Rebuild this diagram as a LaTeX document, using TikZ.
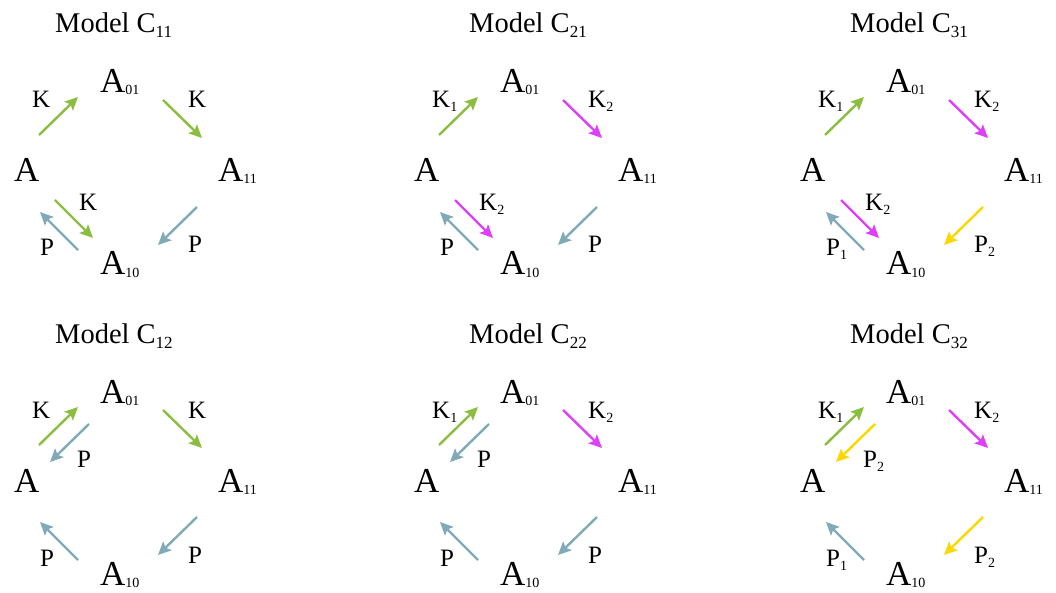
\documentclass[tikz,border=0pt]{standalone}
\usepackage{fontspec}
\setmainfont{Liberation Serif}
\usetikzlibrary{arrows.meta}
\definecolor{kgreen}{RGB}{139,190,64}
\definecolor{kmagenta}{RGB}{222,64,250}
\definecolor{pblue}{RGB}{128,170,184}
\definecolor{pyellow}{RGB}{253,215,0}
\tikzset{
  species/.style = {anchor=base west, inner sep=0pt, font=\fontsize{35pt}{35pt}\selectfont},
  rate/.style    = {anchor=base west, inner sep=0pt, font=\fontsize{25pt}{25pt}\selectfont},
  title/.style   = {anchor=base west, inner sep=0pt, font=\fontsize{28.5pt}{28.5pt}\selectfont},
  arr/.style     = {-{Stealth[length=13pt,width=12pt,inset=2.5pt]}, line width=2.4pt},
}
\newcommand{\spsub}[1]{\raisebox{-2pt}{\fontsize{14pt}{14pt}\selectfont#1}}
\newcommand{\rtsub}[1]{\raisebox{-4pt}{\fontsize{14pt}{14pt}\selectfont#1}}
\newcommand{\ttsub}[1]{\raisebox{-5pt}{\fontsize{17pt}{17pt}\selectfont#1}}
% four species and the arrow ends of one panel
\newcommand{\speciesring}[1]{%
  \node[species] (#1A)   at (14,182)  {A};
  \node[species] (#1A01) at (100,93)  {A\spsub{01}};
  \node[species] (#1A11) at (218,182) {A\spsub{11}};
  \node[species] (#1A10) at (100,275) {A\spsub{10}};
  \coordinate (#1w1) at (39,135);  \coordinate (#1n1) at (78,97);
  \coordinate (#1n2) at (89,114);  \coordinate (#1w2) at (50,152);
  \coordinate (#1n3) at (163,100); \coordinate (#1e1) at (202,138);
  \coordinate (#1e2) at (197,207); \coordinate (#1s1) at (158,245);
  \coordinate (#1w3) at (55,200);  \coordinate (#1s2) at (93,238);
  \coordinate (#1s3) at (78,250);  \coordinate (#1w4) at (40,212);
}

\begin{document}
\begin{tikzpicture}[x=1pt,y=-1pt]
  \useasboundingbox (0,0) rectangle (1056,593);

  % top row
  \begin{scope}
    \node[title] (t11) at (55,33) {Model C\ttsub{11}};
    \speciesring{c11}
    \draw[arr,kgreen] (c11w1) -- (c11n1);
    \draw[arr,kgreen] (c11n3) -- (c11e1);
    \draw[arr,pblue]  (c11e2) -- (c11s1);
    \draw[arr,kgreen] (c11w3) -- (c11s2);
    \draw[arr,pblue]  (c11s3) -- (c11w4);
    \node[rate] (c11r1) at (32,108)  {K};
    \node[rate] (c11r2) at (188,108) {K};
    \node[rate] (c11r3) at (188,253) {P};
    \node[rate] (c11r4) at (79,211)  {K};
    \node[rate] (c11r5) at (40,256)  {P};
  \end{scope}

  \begin{scope}[shift={(400,0)}]
    \node[title] (t21) at (69,33) {Model C\ttsub{21}};
    \speciesring{c21}
    \draw[arr,kgreen]   (c21w1) -- (c21n1);
    \draw[arr,kmagenta] (c21n3) -- (c21e1);
    \draw[arr,pblue]    (c21e2) -- (c21s1);
    \draw[arr,kmagenta] (c21w3) -- (c21s2);
    \draw[arr,pblue]    (c21s3) -- (c21w4);
    \node[rate] (c21r1) at (32,108)  {K\rtsub{1}};
    \node[rate] (c21r2) at (188,108) {K\rtsub{2}};
    \node[rate] (c21r3) at (188,253) {P};
    \node[rate] (c21r4) at (79,211)  {K\rtsub{2}};
    \node[rate] (c21r5) at (40,256)  {P};
  \end{scope}

  \begin{scope}[shift={(786,0)}]
    \node[title] (t31) at (64,33) {Model C\ttsub{31}};
    \speciesring{c31}
    \draw[arr,kgreen]   (c31w1) -- (c31n1);
    \draw[arr,kmagenta] (c31n3) -- (c31e1);
    \draw[arr,pyellow]  (c31e2) -- (c31s1);
    \draw[arr,kmagenta] (c31w3) -- (c31s2);
    \draw[arr,pblue]    (c31s3) -- (c31w4);
    \node[rate] (c31r1) at (32,108)  {K\rtsub{1}};
    \node[rate] (c31r2) at (188,108) {K\rtsub{2}};
    \node[rate] (c31r3) at (188,253) {P\rtsub{2}};
    \node[rate] (c31r4) at (79,211)  {K\rtsub{2}};
    \node[rate] (c31r5) at (40,256)  {P\rtsub{1}};
  \end{scope}

  % bottom row
  \begin{scope}[shift={(0,310)}]
    \node[title] (t12) at (55,33) {Model C\ttsub{12}};
    \speciesring{c12}
    \draw[arr,kgreen] (c12w1) -- (c12n1);
    \draw[arr,pblue]  (c12n2) -- (c12w2);
    \draw[arr,kgreen] (c12n3) -- (c12e1);
    \draw[arr,pblue]  (c12e2) -- (c12s1);
    \draw[arr,pblue]  (c12s3) -- (c12w4);
    \node[rate] (c12r1) at (32,108)  {K};
    \node[rate] (c12r6) at (77,157)  {P};
    \node[rate] (c12r2) at (188,108) {K};
    \node[rate] (c12r3) at (188,253) {P};
    \node[rate] (c12r5) at (40,256)  {P};
  \end{scope}

  \begin{scope}[shift={(400,310)}]
    \node[title] (t22) at (69,33) {Model C\ttsub{22}};
    \speciesring{c22}
    \draw[arr,kgreen]   (c22w1) -- (c22n1);
    \draw[arr,pblue]    (c22n2) -- (c22w2);
    \draw[arr,kmagenta] (c22n3) -- (c22e1);
    \draw[arr,pblue]    (c22e2) -- (c22s1);
    \draw[arr,pblue]    (c22s3) -- (c22w4);
    \node[rate] (c22r1) at (32,108)  {K\rtsub{1}};
    \node[rate] (c22r6) at (77,157)  {P};
    \node[rate] (c22r2) at (188,108) {K\rtsub{2}};
    \node[rate] (c22r3) at (188,253) {P};
    \node[rate] (c22r5) at (40,256)  {P};
  \end{scope}

  \begin{scope}[shift={(786,310)}]
    \node[title] (t32) at (64,33) {Model C\ttsub{32}};
    \speciesring{c32}
    \draw[arr,kgreen]   (c32w1) -- (c32n1);
    \draw[arr,pyellow]  (c32n2) -- (c32w2);
    \draw[arr,kmagenta] (c32n3) -- (c32e1);
    \draw[arr,pyellow]  (c32e2) -- (c32s1);
    \draw[arr,pblue]    (c32s3) -- (c32w4);
    \node[rate] (c32r1) at (32,108)  {K\rtsub{1}};
    \node[rate] (c32r6) at (77,157)  {P\rtsub{2}};
    \node[rate] (c32r2) at (188,108) {K\rtsub{2}};
    \node[rate] (c32r3) at (188,253) {P\rtsub{2}};
    \node[rate] (c32r5) at (40,256)  {P\rtsub{1}};
  \end{scope}
\end{tikzpicture}
\end{document}
